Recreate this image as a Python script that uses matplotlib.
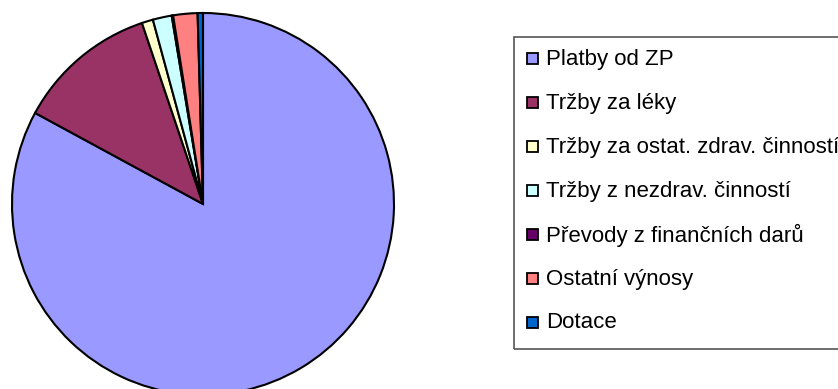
import matplotlib.pyplot as plt
from matplotlib.patches import Rectangle

labels = ['Platby od ZP', 'Tržby za léky', 'Tržby za ostat. zdrav. činností',
          'Tržby z nezdrav. činností', 'Převody z finančních darů',
          'Ostatní výnosy', 'Dotace']
values = [82.8, 11.9, 0.95, 1.6, 0.12, 2.05, 0.45]
colors = ['#9999FF', '#993366', '#FFFFCC', '#CCFFFF', '#660066', '#FF8080', '#0066CC']

plt.rcParams['font.family'] = ['Liberation Sans', 'DejaVu Sans']

W, H = 838, 389
fig = plt.figure(figsize=(W / 100, H / 100), dpi=100)

# pie, centre (203, 204) px, radius 191 px
cx, cy, r = 203, 204, 191
ax = fig.add_axes([(cx - r) / W, (H - cy - r) / H, 2 * r / W, 2 * r / H])
ax.pie(values, colors=colors, startangle=90, counterclock=False,
       wedgeprops=dict(edgecolor='black', linewidth=1.5))
ax.set_xlim(-1, 1)
ax.set_ylim(-1, 1)
ax.axis('off')

# legend box running off the right edge
box_l, box_t, box_b = 514, 37, 349
fig.patches.append(Rectangle((box_l / W, 1 - box_b / H), (950 - box_l) / W, (box_b - box_t) / H,
                             transform=fig.transFigure, fill=False,
                             edgecolor='#555555', linewidth=1.2))

y0, step, sq = 58, 44, 11
for i, (lab, col) in enumerate(zip(labels, colors)):
    y = y0 + i * step
    fig.patches.append(Rectangle((527 / W, 1 - (y + sq / 2) / H), sq / W, sq / H,
                                 transform=fig.transFigure, facecolor=col,
                                 edgecolor='black', linewidth=1.3))
    fig.text(546 / W, 1 - (y + 1) / H, lab, fontsize=16, va='center', ha='left')

fig.savefig('out.png', dpi=100)
